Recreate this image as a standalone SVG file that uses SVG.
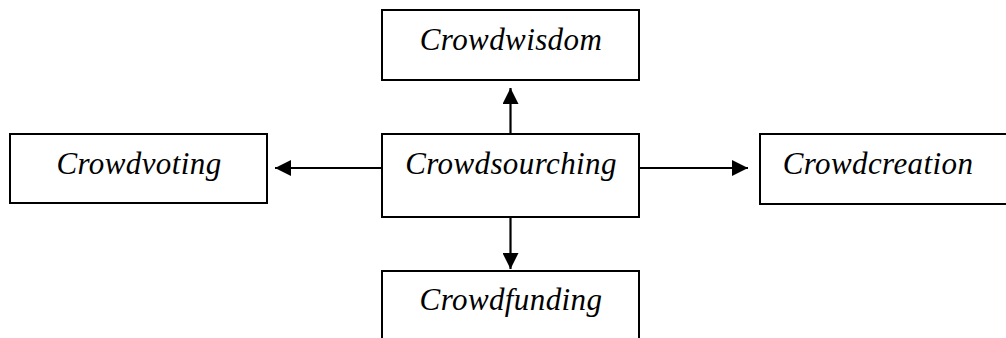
<svg xmlns="http://www.w3.org/2000/svg" width="1006" height="338" viewBox="0 0 1006 338">
  <defs>
    <marker id="arrow" viewBox="0 0 16 16" refX="16" refY="8" markerWidth="16" markerHeight="16" markerUnits="userSpaceOnUse" orient="auto">
      <path d="M0,0 L16,8 L0,16 Z" fill="#000"/>
    </marker>
    <style>
      .box { fill: #fff; stroke: #000; stroke-width: 2; }
      .label { font-family: "Liberation Serif", "Times New Roman", serif; font-style: italic; font-size: 31px; letter-spacing: 0.4px; fill: #000; text-anchor: middle; }
      .link { stroke: #000; stroke-width: 2.2; fill: none; marker-end: url(#arrow); }
    </style>
  </defs>
  <rect width="1006" height="338" fill="#fff"/>

  <g id="connectors">
    <line class="link" x1="510.5" y1="134" x2="510.5" y2="88"/>
    <line class="link" x1="382" y1="168" x2="275" y2="168"/>
    <line class="link" x1="640" y1="168" x2="748" y2="168"/>
    <line class="link" x1="510.5" y1="217" x2="510.5" y2="269"/>
  </g>

  <g id="crowdwisdom">
    <rect class="box" x="382" y="10" width="257" height="70"/>
    <text class="label" x="511" y="50">Crowdwisdom</text>
  </g>

  <g id="crowdvoting">
    <rect class="box" x="10" y="134" width="257" height="69"/>
    <text class="label" x="139" y="174">Crowdvoting</text>
  </g>

  <g id="crowdsourching">
    <rect class="box" x="382" y="134" width="257" height="83"/>
    <text class="label" x="511" y="174">Crowdsourching</text>
  </g>

  <g id="crowdcreation">
    <rect class="box" x="760" y="134" width="260" height="70"/>
    <text class="label" x="878" y="174">Crowdcreation</text>
  </g>

  <g id="crowdfunding">
    <rect class="box" x="382" y="271" width="257" height="80"/>
    <text class="label" x="511" y="310">Crowdfunding</text>
  </g>
</svg>
